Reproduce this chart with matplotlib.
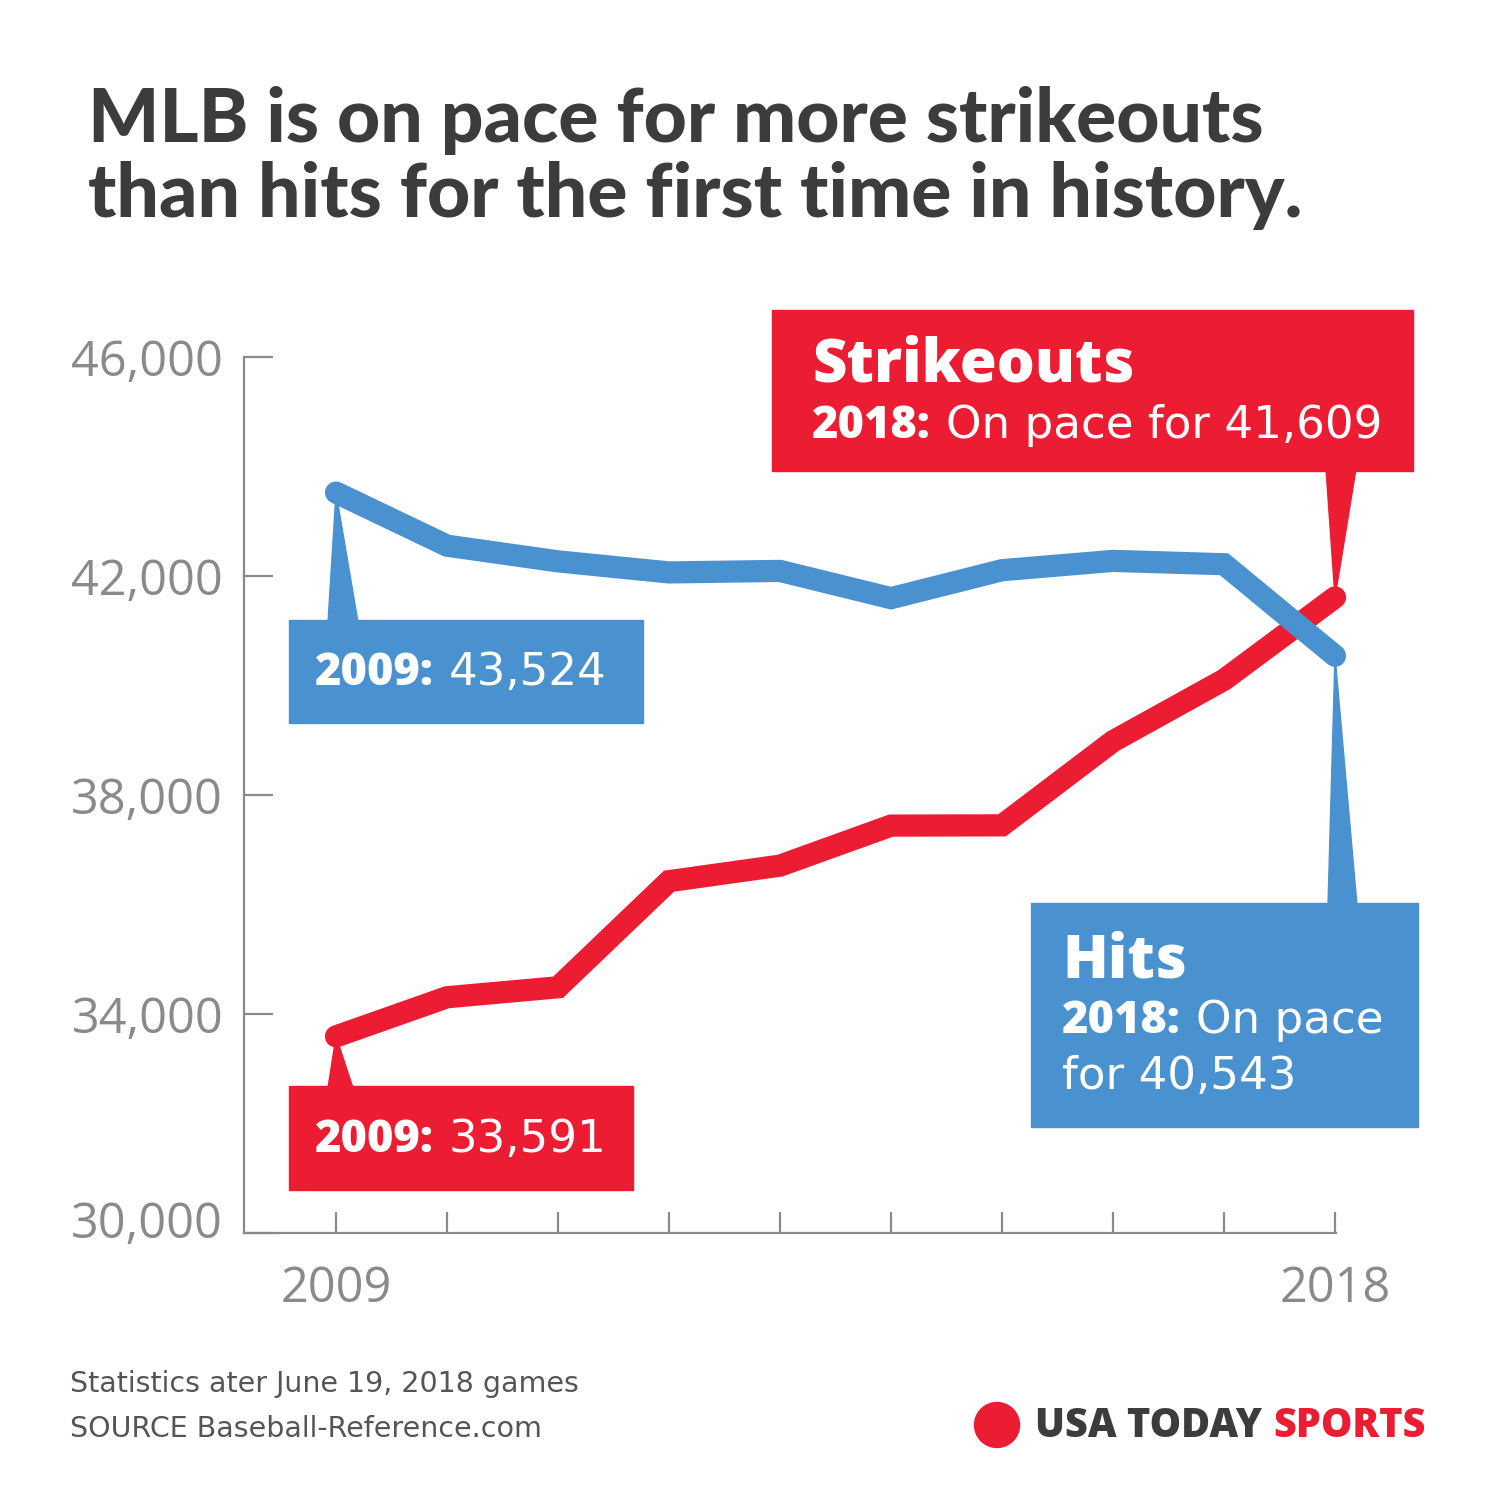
import matplotlib
matplotlib.use("Agg")
import matplotlib.pyplot as plt
from matplotlib.patches import Rectangle, Polygon, Circle
from matplotlib.transforms import ScaledTranslation

# MLB strikeouts vs hits, 2009-2018 (2018 = on pace)
years = [2009, 2010, 2011, 2012, 2013, 2014, 2015, 2016, 2017, 2018]
hits = [43524, 42554, 42267, 42065, 42093, 41595, 42106, 42276, 42215, 40543]
strikeouts = [33591, 34306, 34488, 36426, 36710, 37441, 37446, 38982, 40104, 41609]

y_ticks = [30000, 34000, 38000, 42000, 46000]
x_labels = ["2009", "", "", "", "", "", "", "", "", "2018"]

BLUE = "#4a91cf"
RED = "#ec1c32"
GRAY = "#8a8a8a"
DARK = "#3c3c3c"
BOLD_FONT = "Open Sans"
REG_FONT = "DejaVu Sans"
TITLE_FONT = "Lato"

W = H = 1501
fig = plt.figure(figsize=(W / 100, H / 100), dpi=100)
fig.patch.set_facecolor("white")


def fx(px):
    return px / W


def fy(py):
    return 1 - py / H


# axes box in pixels: x 244..1336, y 357..1233
ax = fig.add_axes([fx(244), fy(1233), (1336 - 244) / W, (1233 - 357) / H])
ax.set_xlim(2008.171, 2018.009)
ax.set_ylim(30000, 46000)
for s in ["top", "right"]:
    ax.spines[s].set_visible(False)
for s in ["left", "bottom"]:
    ax.spines[s].set_color(GRAY)
    ax.spines[s].set_linewidth(1.6)

ax.set_yticks(y_ticks)
ax.set_yticklabels([f"{v:,}" for v in y_ticks])
ax.set_xticks(years)
ax.set_xticklabels(x_labels)
ax.tick_params(axis="y", direction="in", length=21, width=1.6, color=GRAY,
               pad=15, labelsize=35, labelcolor=GRAY)
ax.tick_params(axis="x", direction="in", length=15, width=1.6, color=GRAY,
               pad=23, labelsize=35, labelcolor=GRAY)
for lab in ax.get_xticklabels() + ax.get_yticklabels():
    lab.set_fontfamily("Open Sans")
# bottom label sits a little above the axis line
ylabs = ax.get_yticklabels()
ylabs[0].set_transform(ylabs[0].get_transform() + ScaledTranslation(0, 14 / 100, fig.dpi_scale_trans))

ax.plot(years, strikeouts, color=RED, lw=16, solid_capstyle="round",
        solid_joinstyle="miter", zorder=3, clip_on=False)
ax.plot(years, hits, color=BLUE, lw=16, solid_capstyle="round",
        solid_joinstyle="miter", zorder=4, clip_on=False)

inv = fig.transFigure.inverted()


def tip(x, y):
    return inv.transform(ax.transData.transform((x, y)))


def callout(box, base, pt, color):
    # box = (x0, y0, x1, y1) pixels from top-left; base = (bx0, bx1, by)
    x0, y0, x1, y1 = box
    fig.patches.append(Rectangle((fx(x0), fy(y1)), (x1 - x0) / W, (y1 - y0) / H,
                                 transform=fig.transFigure, color=color, zorder=5))
    bx0, bx1, by = base
    fig.patches.append(Polygon([(fx(bx0), fy(by)), (fx(bx1), fy(by)), tuple(pt)],
                               closed=True, transform=fig.transFigure,
                               color=color, zorder=5))


callout((289, 620, 643, 723), (328, 358, 622), tip(years[0], hits[0]), BLUE)
callout((289, 1086, 633, 1190), (328, 353, 1088), tip(years[0], strikeouts[0]), RED)
callout((772, 310, 1413, 471), (1326, 1356, 469), tip(years[-1], strikeouts[-1]), RED)
callout((1031, 903, 1418, 1127), (1328, 1357, 905), tip(years[-1], hits[-1]), BLUE)

renderer = fig.canvas.get_renderer()


def ptext(x, y, s, size, weight="normal", color="white", family=REG_FONT, **kw):
    return fig.text(fx(x), fy(y), s, fontsize=size, fontweight=weight,
                    color=color, family=family, va="baseline", ha="left",
                    zorder=6, **kw)


def mixed(x, y, bold, rest, size, color="white"):
    t = ptext(x, y, bold, size, "heavy", color, BOLD_FONT)
    bb = t.get_window_extent(renderer)
    ptext(bb.x1 + size * 0.45, y, rest, size, "normal", color)


mixed(315, 685, "2009:", "43,524", 32.5)
mixed(315, 1152, "2009:", "33,591", 32.5)
ptext(812, 381, "Strikeouts", 43, "heavy", family=BOLD_FONT)
mixed(812, 438, "2018:", "On pace for 41,609", 32.5)
ptext(1062, 977, "Hits", 43, "heavy", family=BOLD_FONT)
mixed(1062, 1033, "2018:", "On pace", 32.5)
ptext(1062, 1089, "for 40,543", 32.5)

# title
ptext(88, 142, "MLB is on pace for more strikeouts", 54, "black", DARK, TITLE_FONT)
ptext(88, 217, "than hits for the first time in history.", 54, "black", DARK, TITLE_FONT)

# footer
ptext(70, 1392, "Statistics ater June 19, 2018 games", 20.5, "normal", "#555555")
ptext(70, 1437, "SOURCE Baseball-Reference.com", 20.5, "normal", "#555555")

fig.patches.append(Circle((fx(997), fy(1425)), 22.5 / W, transform=fig.transFigure,
                          color=RED, zorder=6))
t = ptext(1035, 1437, "USA TODAY", 28.5, "heavy", DARK, BOLD_FONT)
bb = t.get_window_extent(renderer)
ptext(bb.x1 + 11, 1437, "SPORTS", 28.5, "heavy", RED, BOLD_FONT)

fig.savefig("out.png", dpi=100, facecolor="white")
